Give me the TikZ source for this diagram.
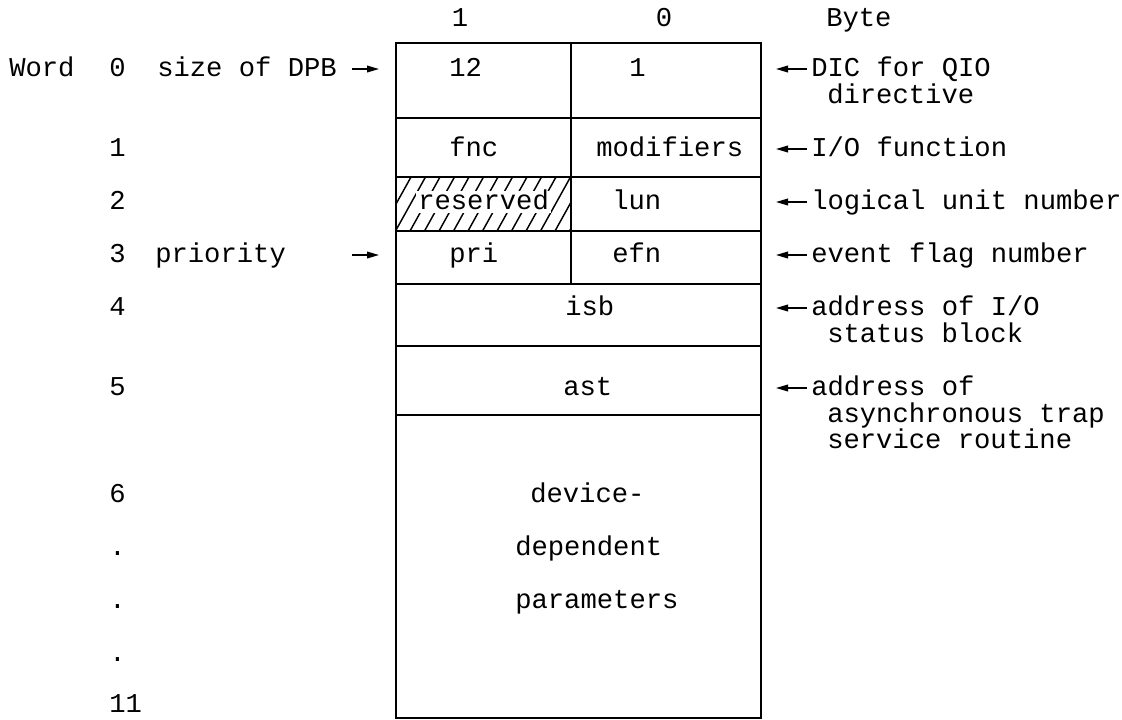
\documentclass[tikz,border=0pt]{standalone}
\usepackage{fontspec}
\usetikzlibrary{arrows.meta}
\newfontfamily\tx{Liberation Mono}
\begin{document}
\begin{tikzpicture}[x=0.75pt,y=-0.75pt,
  txt/.style={font=\tx\fontsize{20.4pt}{26pt}\selectfont, inner sep=0pt, text height=10.8pt, text depth=0pt},
  lbl/.style={txt, anchor=west},
  grid/.style={line width=1.5pt},
  hatch/.style={line width=1.1pt},
  arr/.style={line width=1.1pt, -{Triangle[length=9pt,width=5pt]}}]
\useasboundingbox (0,0) rectangle (1122,719);

% header
\node[txt] (h1) at (460,19) {1};
\node[txt] (h0) at (664,19) {0};
\node[lbl] (hbyte) at (826,19) {Byte};

% word column
\node[lbl] (word) at (9,69) {Word};
\node[lbl] (w0) at (109,69) {0};
\node[lbl] (w1) at (109,149) {1};
\node[lbl] (w2) at (109,202) {2};
\node[lbl] (w3) at (109,255) {3};
\node[lbl] (w4) at (109,308) {4};
\node[lbl] (w5) at (109,388) {5};
\node[lbl] (w6) at (109,495) {6};
\node[lbl] (d1) at (109,548) {.};
\node[lbl] (d2) at (109,601) {.};
\node[lbl] (d3) at (109,654) {.};
\node[lbl] (w11) at (109,705) {11};

% left labels and arrows
\node[lbl] (ldpb) at (157,69) {size of DPB};
\node[lbl] (lpri) at (155,255) {priority};
\coordinate (ldpbA) at (352,69);
\coordinate (ldpbB) at (379,69);
\coordinate (lpriA) at (352,255);
\coordinate (lpriB) at (379,255);
\draw[arr] (ldpbA) -- (ldpbB);
\draw[arr] (lpriA) -- (lpriB);

% hatch in reserved cell
\begin{scope}
  \clip (396,177) rectangle (571,231);
  \foreach \k in {0,...,15}
    \draw[hatch] ({381+\k*14.5},231) -- ({411+\k*14.5},177);
\end{scope}
\node[lbl, fill=white, inner xsep=1.5pt, inner ysep=2.5pt] (res) at (416,202) {reserved};

% grid
\draw[grid] (396,43) rectangle (761,718);
\draw[grid] (571,43) -- (571,284);
\draw[grid] (396,118) -- (761,118);
\draw[grid] (396,177) -- (761,177);
\draw[grid] (396,231) -- (761,231);
\draw[grid] (396,284) -- (761,284);
\draw[grid] (396,346) -- (761,346);
\draw[grid] (396,415) -- (761,415);

% cell contents
\node[lbl] (c12) at (449,69) {12};
\node[lbl] (c1) at (629,69) {1};
\node[lbl] (cfnc) at (449,149) {fnc};
\node[lbl] (cmod) at (596,149) {modifiers};
\node[lbl] (clun) at (612,202) {lun};
\node[lbl] (cpri) at (449,255) {pri};
\node[lbl] (cefn) at (612,255) {efn};
\node[lbl] (cisb) at (565,308) {isb};
\node[lbl] (cast) at (563,388) {ast};
\node[lbl] (cdev) at (530,495) {device-};
\node[lbl] (cdep) at (515,548) {dependent};
\node[lbl] (cpar) at (515,601) {parameters};

% right labels
\node[lbl] (rdic) at (811,69) {DIC for QIO};
\node[lbl] (rdic2) at (827,96) {directive};
\node[lbl] (rio) at (811,149) {I/O function};
\node[lbl] (rlun) at (811,202) {logical unit number};
\node[lbl] (refn) at (811,255) {event flag number};
\node[lbl] (risb) at (811,308) {address of I/O};
\node[lbl] (risb2) at (827,335) {status block};
\node[lbl] (rast) at (811,388) {address of};
\node[lbl] (rast2) at (827,415) {asynchronous trap};
\node[lbl] (rast3) at (827,441) {service routine};

\coordinate (tdic) at (776,69);
\coordinate (tio) at (776,149);
\coordinate (tlun) at (776,202);
\coordinate (tefn) at (776,255);
\coordinate (tisb) at (776,308);
\coordinate (tast) at (776,388);
\draw[arr, shorten <=3pt] (rdic.west) -- (tdic);
\draw[arr, shorten <=3pt] (rio.west) -- (tio);
\draw[arr, shorten <=3pt] (rlun.west) -- (tlun);
\draw[arr, shorten <=3pt] (refn.west) -- (tefn);
\draw[arr, shorten <=3pt] (risb.west) -- (tisb);
\draw[arr, shorten <=3pt] (rast.west) -- (tast);
\end{tikzpicture}
\end{document}
